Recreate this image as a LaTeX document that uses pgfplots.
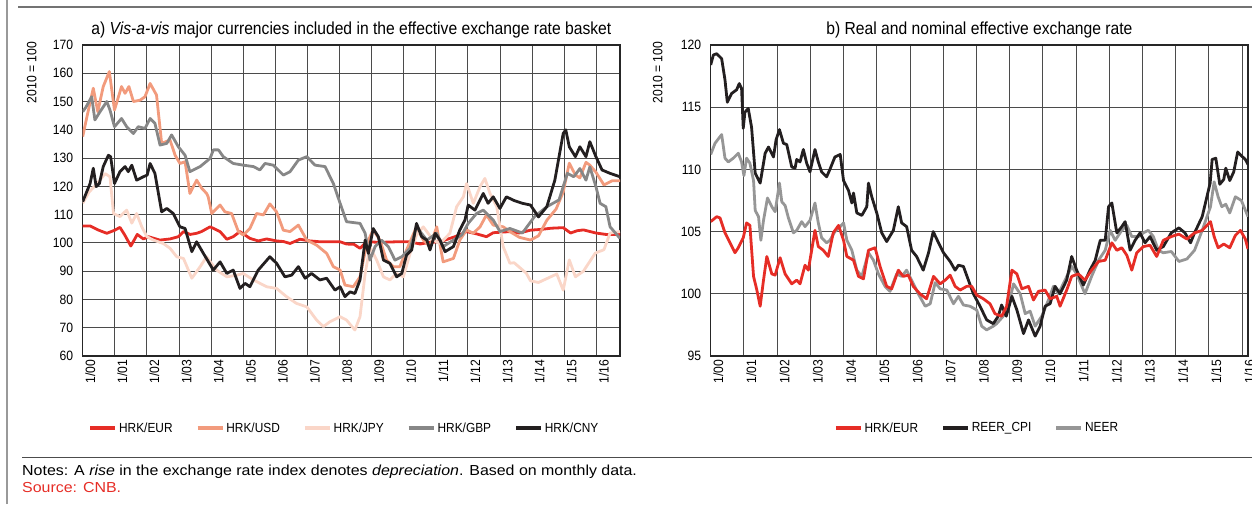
\documentclass[border=0pt]{standalone}
\usepackage{fontspec}
\setmainfont{Liberation Sans}[FakeStretch=0.9]
\newfontfamily\notesfont{Liberation Sans}[FakeStretch=1.1]
\usepackage{pgfplots}
\pgfplotsset{compat=1.18}
\definecolor{eurc}{RGB}{230,45,38}
\definecolor{usdc}{RGB}{242,155,125}
\definecolor{jpyc}{RGB}{250,214,200}
\definecolor{gbpc}{RGB}{135,135,135}
\definecolor{cnyc}{RGB}{35,31,32}
\definecolor{neerc}{RGB}{150,150,150}
\definecolor{gridc}{RGB}{75,75,75}
\pgfplotsset{
  myaxis/.style={
    scale only axis, width=537.3pt, height=311pt, anchor=south west,
    xmin=0,
    xtick={0,...,16},
    xticklabels={1/00,1/01,1/02,1/03,1/04,1/05,1/06,1/07,1/08,1/09,1/10,1/11,1/12,1/13,1/14,1/15,1/16},
    major tick length=0pt,
    grid=major,
    major grid style={draw=gridc, line width=0.9pt},
    axis line style={draw=black!85, line width=1.5pt},
    tick label style={font=\fontsize{13.5}{15}\selectfont},
    /pgf/number format/assume math mode=true,
    yticklabel style={anchor=east, xshift=-6pt},
    xticklabel style={rotate=90, anchor=east, yshift=-7.5pt},
    legend style={draw=none, fill=none, font=\fontsize{13.2}{15}\selectfont,
      legend columns=-1, anchor=center,
      /tikz/every even column/.append style={column sep=21pt}},
    legend image code/.code={\draw[##1, line width=3.8pt] (0pt,0pt) -- (25pt,0pt);},
    every axis plot/.append style={line width=2.8pt, line join=round, mark=none},
  }
}
\begin{document}
\begin{tikzpicture}[x=1pt,y=1pt]
\useasboundingbox (0,0) rectangle (1252,504);
\draw[line width=1.5pt, color=black!40] (7,0) -- (7,504);
\draw[line width=1.5pt, color=black!55] (18,497) -- (1252,497);
\draw[line width=1pt, color=black!70] (22,47) -- (1252,47);
\node[anchor=base west, inner sep=0pt, font=\notesfont\fontsize{14.5}{16}\selectfont] at (22,29) {Notes: A \textit{rise} in the exchange rate index denotes \textit{depreciation}. Based on monthly data.};
\node[anchor=base west, inner sep=0pt, font=\notesfont\fontsize{14.5}{16}\selectfont, text=eurc] at (22,12) {Source: CNB.};
% titles and y labels
\node[anchor=base, inner sep=0pt, font=\fontsize{17.4}{19}\selectfont] at (351.4,469) {a) \textit{Vis-a-vis} major currencies included in the effective exchange rate basket};
\node[anchor=base, inner sep=0pt, font=\fontsize{17.4}{19}\selectfont] at (979.4,469) {b) Real and nominal effective exchange rate};
\node[rotate=90, anchor=east, inner sep=0pt, font=\fontsize{13.5}{15}\selectfont] at (31.7,462.3) {2010 = 100};
\node[rotate=90, anchor=east, inner sep=0pt, font=\fontsize{13.5}{15}\selectfont] at (657.6,462.3) {2010 = 100};

\begin{axis}[myaxis, at={(82.7pt,148pt)}, xmax=16.74, ymin=60, ymax=170, ytick={60,70,...,170},
  legend style={at={(0.487,-0.2315)}}]
\addplot[color=eurc] coordinates {(0,106) (0.23,106) (0.5,104.5) (0.75,103.4) (1.0,104.5) (1.16,105.5) (1.3,103) (1.5,98.9) (1.7,103) (1.89,101.4) (2.05,102.2) (2.4,101) (2.72,101.4) (2.98,102.2) (3.14,104) (3.35,103) (3.55,103.4) (3.7,104) (3.97,105.7) (4.28,104) (4.49,101.3) (4.69,102.2) (4.9,104) (5.21,101.6) (5.47,100.7) (5.73,101.4) (6.04,100.7) (6.25,100.5) (6.46,99.8) (6.77,101.3) (7.08,100.7) (7.39,100.4) (7.81,100.4) (8.02,100.4) (8.22,99.6) (8.45,99.5) (8.64,98.1) (8.85,100.4) (9.26,100.2) (9.78,100.4) (10.2,100.4) (10.51,99.6) (10.82,100.2) (11.13,100.4) (11.44,101.6) (11.75,102.8) (11.96,104) (12.27,103.2) (12.58,102.2) (12.79,103.6) (13.31,104) (13.6,103.5) (13.95,104.5) (14.3,104.8) (14.6,105.2) (14.97,105.4) (15.2,103.5) (15.4,104.3) (15.6,104.6) (15.99,103.5) (16.3,103) (16.74,103)};
\addlegendentry{HRK/EUR}
\addplot[color=usdc] coordinates {(0,137.6) (0.12,144) (0.33,154.7) (0.47,146.4) (0.64,155.3) (0.83,160.6) (0.99,147) (1.21,155.3) (1.32,152.9) (1.44,155.3) (1.58,150) (1.79,150.5) (1.94,151.7) (2.1,156.4) (2.3,152.3) (2.46,135.2) (2.72,136.4) (2.88,131) (3.03,128.1) (3.19,128.7) (3.34,117.5) (3.55,122.2) (3.71,119.3) (3.86,117.5) (3.91,116.3) (4.02,110.4) (4.28,113.4) (4.43,111) (4.64,110.4) (4.85,104) (5.0,102.8) (5.21,105.1) (5.42,110.4) (5.63,109.9) (5.83,113.8) (6.04,111) (6.25,104.5) (6.46,104) (6.72,106.3) (6.98,101) (7.29,99.2) (7.6,96.3) (7.81,91.6) (8.02,90.4) (8.17,85.1) (8.43,84.5) (8.64,88) (8.85,99.8) (9.05,104.6) (9.26,101) (9.47,93.9) (9.68,91.6) (9.88,91.6) (10.09,97.5) (10.4,105.7) (10.61,101) (10.82,98.7) (11.03,105.7) (11.23,93.3) (11.55,94.5) (11.75,101) (11.96,104.6) (12.17,103.4) (12.38,105.7) (12.58,109.9) (12.79,106.3) (13.1,105.7) (13.31,104) (13.6,102) (13.95,101) (14.2,102.5) (14.46,108) (14.75,112) (14.97,118) (15.16,128.2) (15.35,124) (15.49,123) (15.68,128.5) (15.8,127.5) (15.99,125) (16.24,120.5) (16.5,122) (16.74,122)};
\addlegendentry{HRK/USD}
\addplot[color=jpyc] coordinates {(0,114) (0.2,118) (0.45,121) (0.7,124.5) (0.85,123.4) (0.96,110.4) (1.16,109.3) (1.37,111.6) (1.53,107) (1.68,110.4) (1.84,105.7) (2.0,102.2) (2.2,101) (2.51,99.8) (2.72,98.1) (2.93,95.1) (3.14,94.5) (3.4,87.5) (3.66,91.6) (3.86,95.1) (4.17,90.4) (4.49,88) (4.8,88.6) (5.0,89.2) (5.32,86.9) (5.73,84.5) (6.04,83.9) (6.35,81) (6.66,78.6) (6.98,77.4) (7.29,72.7) (7.5,70.4) (7.7,72.1) (8.02,73.9) (8.22,72.7) (8.48,69.2) (8.64,73.9) (8.8,89.2) (8.95,98.7) (9.16,93.9) (9.37,88) (9.57,86.9) (9.78,89.2) (9.99,88) (10.2,96.3) (10.4,102.8) (10.61,105.7) (10.92,101) (11.13,99.8) (11.44,103.4) (11.65,112.8) (11.86,116.3) (11.96,121) (12.17,114) (12.38,119.9) (12.53,122.8) (12.69,117.5) (12.9,112.8) (13.1,98.7) (13.31,92.8) (13.44,93) (13.82,89.3) (13.95,86.6) (14.2,86) (14.58,88) (14.77,89) (14.97,83.3) (15.16,94) (15.35,88) (15.6,90) (15.97,96.4) (16.24,97.6) (16.43,103.5) (16.74,104)};
\addlegendentry{HRK/JPY}
\addplot[color=gbpc] coordinates {(0,146.4) (0.1,148) (0.28,151.7) (0.38,143.5) (0.54,146.4) (0.75,150) (0.85,147) (0.99,141.1) (1.21,144) (1.37,141.1) (1.58,138.7) (1.73,141.1) (1.94,140.5) (2.1,144) (2.25,142.3) (2.41,134.6) (2.62,135.2) (2.77,138.2) (2.98,134) (3.19,131) (3.34,125.2) (3.66,127) (3.97,129.9) (4.07,132.9) (4.23,132.9) (4.38,130.5) (4.69,128.1) (5.0,127.5) (5.32,127) (5.52,125.8) (5.68,128.1) (5.94,127.5) (6.25,124) (6.46,125.2) (6.72,129.3) (6.98,130.5) (7.24,127.5) (7.55,127) (7.81,121) (8.02,114) (8.22,107.5) (8.64,106.9) (8.8,103.4) (8.95,93.9) (9.11,98.7) (9.31,101) (9.52,98.7) (9.73,93.9) (9.94,95.1) (10.2,98.1) (10.4,105.7) (10.72,101) (11.03,103.4) (11.23,98.7) (11.55,101) (11.81,102.8) (12.01,106.9) (12.27,110.4) (12.48,111.6) (12.79,108.1) (13.0,104) (13.31,105.1) (13.7,103.5) (14.07,109.2) (14.46,112.8) (14.84,115.2) (15.1,124.6) (15.3,123.4) (15.49,126.3) (15.68,122.2) (15.8,126.9) (15.99,119.9) (16.12,114) (16.3,112.8) (16.43,105.7) (16.74,101.6)};
\addlegendentry{HRK/GBP}
\addplot[color=cnyc] coordinates {(0,114.6) (0.23,121) (0.33,126.4) (0.42,119.9) (0.52,121) (0.64,127) (0.8,131) (0.87,130.5) (0.99,121) (1.16,125.2) (1.32,127) (1.42,125.2) (1.53,127.5) (1.68,122.2) (1.89,123.4) (2.01,124) (2.1,128.1) (2.25,124.6) (2.46,111) (2.62,112.2) (2.82,110.4) (3.03,105.7) (3.19,105.1) (3.4,96.9) (3.55,100.4) (3.76,96.3) (4.07,90.4) (4.28,93.3) (4.49,89.2) (4.69,90.4) (4.9,83.9) (5.06,85.7) (5.21,84.5) (5.47,90.4) (5.83,95.1) (6.04,92.8) (6.3,88) (6.51,88.6) (6.72,91.6) (6.93,87.5) (7.13,89.2) (7.39,86.9) (7.6,87.5) (7.86,83.3) (8.02,84.5) (8.17,81) (8.33,82.7) (8.48,82.1) (8.64,86.9) (8.8,101) (8.9,96.3) (9.05,105.1) (9.21,102.2) (9.37,93.9) (9.57,92.8) (9.78,88) (9.94,89.2) (10.09,95.7) (10.25,97.5) (10.4,106.9) (10.56,102.2) (10.72,101) (10.82,97.5) (10.98,103.4) (11.13,101) (11.29,96.9) (11.55,98.7) (11.75,104.6) (11.91,108.1) (12.01,113.4) (12.22,111.6) (12.48,117.5) (12.63,114) (12.79,116.3) (13.0,112.2) (13.2,116.3) (13.44,115) (13.7,114) (13.95,113.4) (14.2,109.2) (14.46,112.8) (14.71,122.2) (14.97,138.7) (15.05,140) (15.16,134) (15.35,130.5) (15.49,134) (15.68,130.5) (15.8,135.8) (15.99,130.5) (16.18,125.8) (16.43,124.6) (16.74,123.4)};
\addlegendentry{HRK/CNY}
\end{axis}

\begin{axis}[myaxis, at={(710.7pt,148pt)}, xmax=16.18, ymin=95, ymax=120, ytick={95,100,...,120},
  legend style={at={(0.4956,-0.2315)}}]
\addlegendimage{color=eurc}
\addlegendentry{HRK/EUR}
\addlegendimage{color=cnyc}
\addlegendentry{REER\_CPI}
\addlegendimage{color=neerc}
\addlegendentry{NEER}
\addplot[color=neerc, forget plot] coordinates {(0,111.2) (0.13,112.1) (0.33,112.8) (0.43,110.9) (0.53,110.6) (0.68,110.9) (0.83,111.3) (0.93,110.6) (1.0,109.5) (1.08,110.9) (1.18,110.5) (1.29,109.1) (1.34,106.7) (1.44,106.2) (1.51,104.3) (1.59,105.9) (1.71,107.7) (1.84,107) (1.94,106.6) (2.07,108.9) (2.14,107.4) (2.24,107.1) (2.34,106.1) (2.49,104.9) (2.59,105.1) (2.74,105.8) (2.84,105.4) (2.99,105.9) (3.14,107.3) (3.24,105.7) (3.34,104.5) (3.49,104.1) (3.59,104.3) (3.74,105) (3.9,105.4) (4.0,105.7) (4.1,104.3) (4.25,103.5) (4.4,101.9) (4.55,101.4) (4.75,103.3) (4.9,102.7) (5.05,101.6) (5.25,100.6) (5.4,100.2) (5.6,101.6) (5.75,101.4) (5.9,101.9) (6.05,101.1) (6.25,100) (6.46,99) (6.61,99.2) (6.76,100.9) (6.91,100.4) (7.11,100.3) (7.31,99.2) (7.46,99.8) (7.61,99.1) (7.81,99) (8.01,98.7) (8.16,97.4) (8.31,97.1) (8.51,97.4) (8.61,97.6) (8.81,98.2) (8.96,99) (9.12,100.8) (9.32,100) (9.47,98.4) (9.62,98.6) (9.77,97.4) (9.97,98.2) (10.17,99.5) (10.32,100.6) (10.47,100) (10.67,101.1) (10.87,102.2) (11.02,101.6) (11.27,100) (11.47,101.4) (11.68,102.7) (11.88,103.5) (12.03,105.1) (12.18,104.3) (12.38,105.1) (12.53,105.5) (12.68,104.6) (12.88,104.6) (13.03,104.9) (13.18,105.1) (13.33,104.6) (13.48,103.5) (13.63,103.3) (13.87,103.4) (14.1,102.6) (14.34,102.8) (14.57,103.5) (14.8,105.1) (15.05,107) (15.16,109) (15.28,107.8) (15.39,107) (15.51,107.2) (15.63,106.5) (15.8,107.8) (15.98,107.5) (16.18,106.2)};
\addplot[color=cnyc, forget plot] coordinates {(0,118.4) (0.08,119.2) (0.18,119.3) (0.33,118.9) (0.43,117.2) (0.5,115.4) (0.63,116.1) (0.78,116.4) (0.86,116.9) (0.93,116.5) (0.98,113.3) (1.03,114.6) (1.13,114.9) (1.23,113.4) (1.34,109.7) (1.49,108.9) (1.64,111.3) (1.74,111.8) (1.89,111) (1.97,112.4) (2.07,113.2) (2.19,112.1) (2.29,112) (2.44,110.2) (2.54,110.1) (2.59,110.8) (2.69,110.6) (2.79,111.6) (2.89,110.5) (2.99,109.8) (3.14,111.6) (3.24,110.6) (3.34,109.8) (3.49,109.4) (3.59,110) (3.74,111) (3.9,111.2) (4.0,109.1) (4.15,108.3) (4.25,107.3) (4.3,108.1) (4.4,106.5) (4.55,106.3) (4.7,107) (4.75,108.9) (4.85,107.8) (5.0,106.5) (5.15,104.9) (5.3,104.2) (5.5,105.1) (5.65,107) (5.75,105.7) (5.9,105.4) (6.05,103.5) (6.2,103) (6.4,101.9) (6.56,103.3) (6.7,105) (6.86,104.1) (7.01,103.3) (7.21,102.6) (7.36,101.9) (7.46,102.3) (7.61,102.2) (7.76,101.1) (7.91,100) (8.11,99) (8.31,97.9) (8.51,97.6) (8.66,98.2) (8.76,99.1) (8.9,98.2) (9.07,99.8) (9.22,98.7) (9.42,96.8) (9.57,97.9) (9.77,96.6) (9.92,97.4) (10.07,99) (10.22,99.2) (10.37,100.6) (10.52,100) (10.72,101.1) (10.87,103) (11.02,101.9) (11.22,100.7) (11.42,101.9) (11.58,102.7) (11.73,104.3) (11.88,104.3) (11.98,107) (12.08,107.3) (12.23,104.9) (12.38,105.4) (12.48,105.8) (12.63,103.5) (12.78,104.3) (12.93,104.9) (13.08,104.1) (13.23,104.6) (13.43,103.5) (13.63,103.8) (13.87,104.9) (14.1,105.3) (14.28,104.9) (14.45,104.1) (14.57,104.9) (14.8,106.2) (15.04,108.9) (15.1,110.8) (15.21,110.9) (15.33,108.8) (15.45,109.2) (15.51,110.1) (15.63,109.1) (15.75,109.8) (15.87,111.4) (15.98,111.1) (16.1,110.8) (16.18,110.4)};
\addplot[color=eurc, forget plot] coordinates {(0,105.8) (0.18,106.2) (0.28,106.1) (0.43,104.9) (0.58,104.1) (0.73,103.3) (0.83,103.7) (0.98,104.5) (1.08,105.7) (1.18,105.5) (1.29,101.4) (1.39,100.3) (1.49,99) (1.59,101.1) (1.69,103) (1.84,101.6) (1.94,101.5) (2.09,102.9) (2.24,101.6) (2.44,100.8) (2.59,101.1) (2.69,100.8) (2.84,102.3) (2.94,101.9) (3.14,105.1) (3.24,103.8) (3.39,103.5) (3.54,103) (3.69,104.9) (3.85,105.5) (4.0,104.3) (4.1,103) (4.3,102.7) (4.45,101.4) (4.6,101.2) (4.75,103.5) (4.95,103.7) (5.1,102.2) (5.3,100.6) (5.45,100.4) (5.65,101.9) (5.8,101.4) (5.95,101.5) (6.1,100.6) (6.3,100) (6.5,99.6) (6.71,101.4) (6.91,100.8) (7.06,101.1) (7.21,101.5) (7.36,100.6) (7.51,100.3) (7.71,100.6) (7.86,100.6) (8.01,99.9) (8.21,99.6) (8.41,99.2) (8.56,98.4) (8.76,98.2) (8.91,99) (9.07,101.9) (9.22,101.6) (9.37,100.4) (9.57,100.6) (9.72,99.5) (9.87,100.2) (10.07,100.3) (10.22,99.6) (10.42,99.8) (10.52,99) (10.72,100.3) (10.87,101.4) (11.07,101.6) (11.27,101.1) (11.47,101.9) (11.68,102.6) (11.88,102.7) (12.08,104.1) (12.23,103.5) (12.38,103.7) (12.53,103.1) (12.68,101.9) (12.83,103.3) (13.03,103.8) (13.23,103.9) (13.43,103) (13.63,104.3) (13.87,104.6) (14.1,104.8) (14.34,104.4) (14.57,104.9) (14.8,105.1) (15.05,105.8) (15.16,104.6) (15.28,103.7) (15.45,104) (15.63,103.7) (15.8,104.7) (15.95,105.1) (16.1,104.4) (16.18,103.6)};
\end{axis}
\end{tikzpicture}
\end{document}
